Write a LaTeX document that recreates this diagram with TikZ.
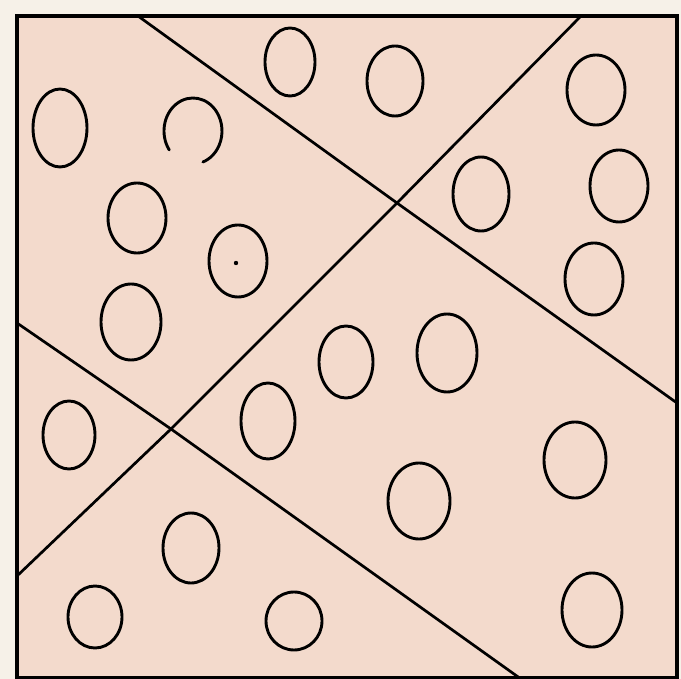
\documentclass[tikz,border=0pt]{standalone}
\definecolor{paper}{RGB}{246,241,232}
\definecolor{sheet}{RGB}{243,218,204}
\tikzset{
    cell/.style={line width=2.9pt,line cap=round},
    cut/.style={line width=2.7pt,line join=round}
}
\begin{document}
\begin{tikzpicture}[x=1pt,y=-1pt]
    \fill[paper] (0,0) rectangle (681,679);
    \useasboundingbox (0,0) rectangle (681,679);
    \fill[sheet] (17,16) rectangle (677,679);
    \draw[line width=3.2pt] (17,16) rectangle (677,678);
    \coordinate (ta) at (138,16);
    \coordinate (ra) at (677,403);
    \coordinate (tb) at (581,16);
    \coordinate (lb) at (17,576);
    \coordinate (lc) at (17,323);
    \coordinate (bc) at (521,679);
    \coordinate (xab) at (397,203);
    \coordinate (xbc) at (171,429);
    \draw[cut] (ta) -- (xab) -- (ra);
    \draw[cut] (tb) -- (xab) -- (xbc) -- (lb);
    \draw[cut] (lc) -- (xbc) -- (bc);
    \foreach \cx/\cy/\rx/\ry in {60/128/27/39, 290/62/25/34, 395/81/28/35,
        596/90/29/35, 481/194/28/37, 619/186/29/36, 137/218/29/35,
        238/261/29/36, 594/279/29/36, 131/322/30/38, 346/362/27/36,
        447/353/30/39, 69/435/26/34, 268/421/27/38, 575/460/31/38,
        419/501/31/38, 191/548/28/35, 95/617/27/31, 294/621/28/29,
        592/610/30/37}
        \draw[cell] (\cx,\cy) ellipse [x radius=\rx, y radius=\ry];
    \draw[cell] (193,131) ++(145:29 and 33) arc [start angle=145, end angle=430, x radius=29, y radius=33];
    \fill (236,263) circle (2.2pt);
\end{tikzpicture}
\end{document}
